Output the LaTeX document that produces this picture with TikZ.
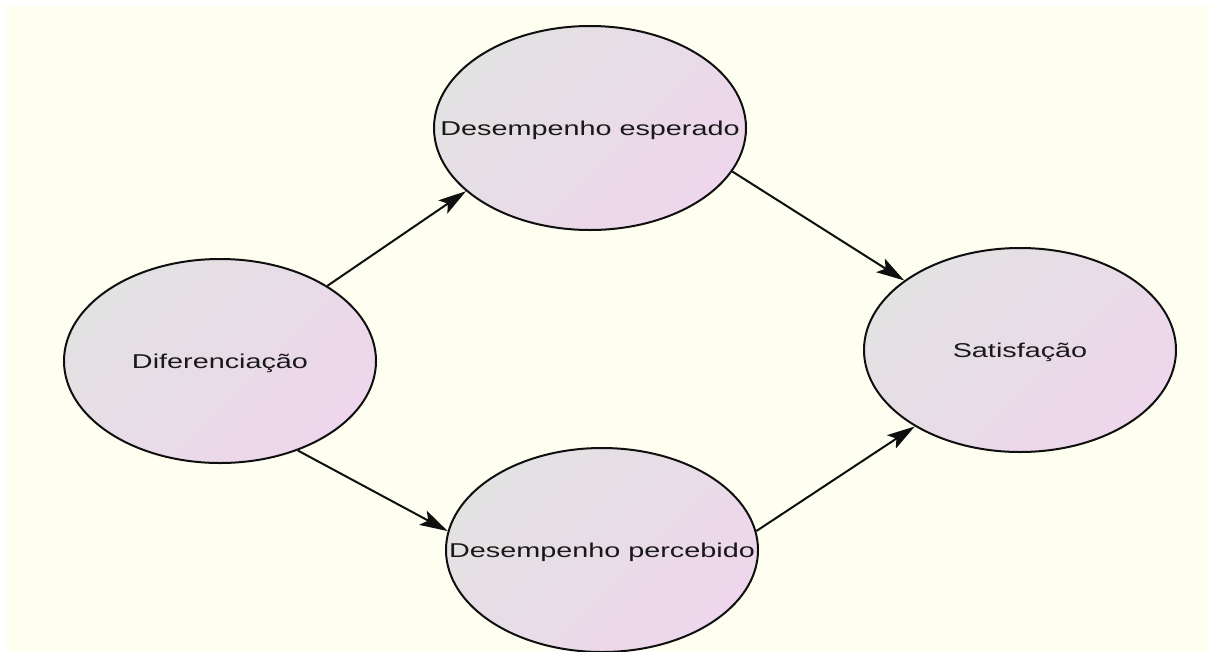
\documentclass[tikz,border=0pt]{standalone}
\usepackage{fontspec}
\setmainfont{Liberation Sans}
\usetikzlibrary{shapes.geometric,arrows.meta}
\definecolor{bgcream}{RGB}{254,255,240}
\definecolor{nodegray}{RGB}{226,226,226}
\definecolor{nodepink}{RGB}{238,214,236}
\definecolor{inkline}{RGB}{15,15,15}
\tikzset{
  latent/.style={ellipse, draw=inkline, line width=2pt,
    minimum width=312pt, minimum height=204pt, inner sep=0pt,
    top color=nodegray, bottom color=nodepink, shading angle=45,
    text=black!90, text height=14pt, text depth=0pt,
    font=\fontsize{20}{23}\selectfont},
  path/.style={draw=inkline, line width=2pt,
    -{Stealth[length=28pt, width=16pt, inset=6pt]}}
}
\newcommand{\wide}[1]{\makebox[0pt]{\scalebox{1.44}[1]{#1}}}
\begin{document}
\begin{tikzpicture}[x=1pt,y=-1pt]
  \useasboundingbox (0,0) rectangle (1209,651);
  \fill[white] (0,0) rectangle (1209,651);
  \fill[bgcream] (6,6) rectangle (1209,651);
  \node[latent] (dif) at (220,361) {\wide{Diferenciação}};
  \node[latent] (esp) at (590,128) {\wide{Desempenho esperado}};
  \node[latent] (per) at (602,550) {\wide{Desempenho percebido}};
  \node[latent] (sat) at (1020,350) {\wide{Satisfação}};
  \draw[path] (dif.35.6) -- (esp.207.5);
  \draw[path] (dif.311.3) -- (per.173.4);
  \draw[path] (esp.343.8) -- (sat.149.4);
  \draw[path] (per.7.9) -- (sat.216.3);
\end{tikzpicture}
\end{document}
